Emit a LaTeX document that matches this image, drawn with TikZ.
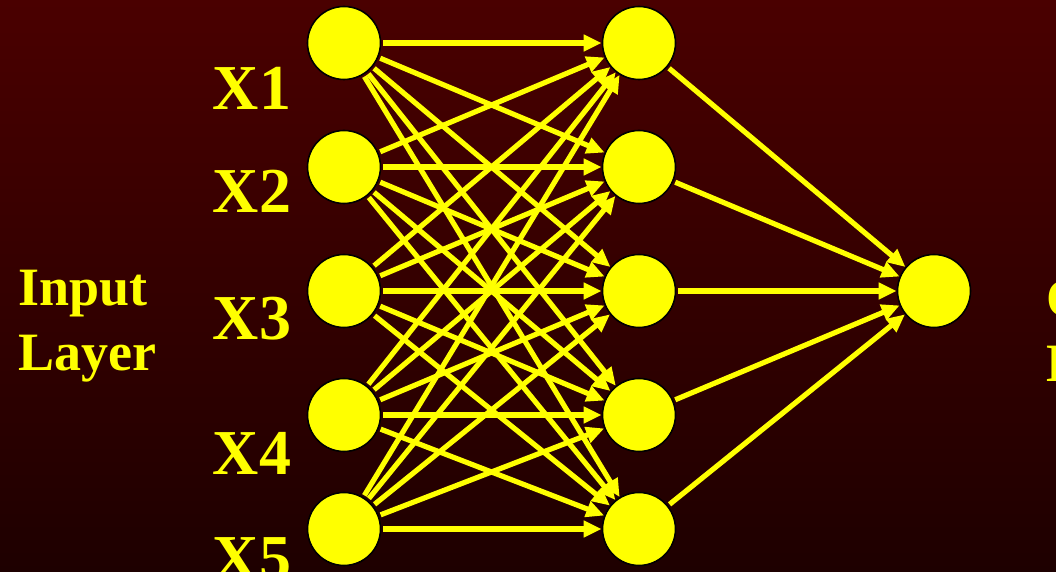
\documentclass[tikz,border=0pt]{standalone}
\usepackage{fontspec}
\setmainfont{Liberation Serif}
\usepackage{tikz}
\usetikzlibrary{positioning, arrows.meta}

\definecolor{bgtop}{RGB}{74,0,0}
\definecolor{bgbottom}{RGB}{30,0,0}
\definecolor{neuronyellow}{RGB}{255,255,0}

\begin{document}
\begin{tikzpicture}[
		x=0.5pt, y=0.5pt,
		node distance=24.7pt and 110.2pt,
		neuron/.style={circle, draw=black, line width=0.8pt, fill=neuronyellow, minimum size=36.5pt, inner sep=0pt},
		varlabel/.style={text=neuronyellow, font=\fontsize{32}{38}\selectfont\bfseries, anchor=base, inner sep=0pt},
		layerlabel/.style={text=neuronyellow, font=\fontsize{27}{32.5}\selectfont\bfseries, align=left, anchor=west, inner sep=0pt},
		arrow/.style={-{Triangle[length=9pt, width=8pt]}, line width=2.6pt, draw=neuronyellow, shorten <=1pt}
		]

		% background
		\shade[top color=bgtop, bottom color=bgbottom] (0,0) rectangle (1056,572);
		\useasboundingbox (0,0) rectangle (1056,572);

		% input layer
		\node[neuron] (x1) at (344,529) {};
		\node[neuron, below=of x1] (x2) {};
		\node[neuron, below=of x2] (x3) {};
		\node[neuron, below=of x3] (x4) {};
		\node[neuron, below=19.7pt of x4] (x5) {};

		% hidden layer
		\node[neuron, right=of x1] (h1) {};
		\node[neuron, right=of x2] (h2) {};
		\node[neuron, right=of x3] (h3) {};
		\node[neuron, right=of x4] (h4) {};
		\node[neuron, right=of x5] (h5) {};

		% output layer
		\node[neuron, right=of h3] (out) {};

		\node[varlabel] (lx1) at (252,462) {X1};
		\node[varlabel] (lx2) at (252,359) {X2};
		\node[varlabel] (lx3) at (252,232) {X3};
		\node[varlabel] (lx4) at (252,97) {X4};
		\node[varlabel] (lx5) at (252,-8) {X5};

		\node[layerlabel] (inlabel) at (18,245.5) {Input\\Layer};
		\node[layerlabel] (outlabel) at (1046,235) {Output\\Layer};

		% input -> hidden
		\draw[arrow] (x1) -- (h1);
		\draw[arrow] (x1) -- (h2);
		\draw[arrow] (x1) -- (h3);
		\draw[arrow] (x1) -- (h4);
		\draw[arrow] (x1) -- (h5);
		\draw[arrow] (x2) -- (h1);
		\draw[arrow] (x2) -- (h2);
		\draw[arrow] (x2) -- (h3);
		\draw[arrow] (x2) -- (h4);
		\draw[arrow] (x2) -- (h5);
		\draw[arrow] (x3) -- (h1);
		\draw[arrow] (x3) -- (h2);
		\draw[arrow] (x3) -- (h3);
		\draw[arrow] (x3) -- (h4);
		\draw[arrow] (x3) -- (h5);
		\draw[arrow] (x4) -- (h1);
		\draw[arrow] (x4) -- (h2);
		\draw[arrow] (x4) -- (h3);
		\draw[arrow] (x4) -- (h4);
		\draw[arrow] (x4) -- (h5);
		\draw[arrow] (x5) -- (h1);
		\draw[arrow] (x5) -- (h2);
		\draw[arrow] (x5) -- (h3);
		\draw[arrow] (x5) -- (h4);
		\draw[arrow] (x5) -- (h5);

		% hidden -> output
		\draw[arrow] (h1) -- (out);
		\draw[arrow] (h2) -- (out);
		\draw[arrow] (h3) -- (out);
		\draw[arrow] (h4) -- (out);
		\draw[arrow] (h5) -- (out);
	\end{tikzpicture}
\end{document}
